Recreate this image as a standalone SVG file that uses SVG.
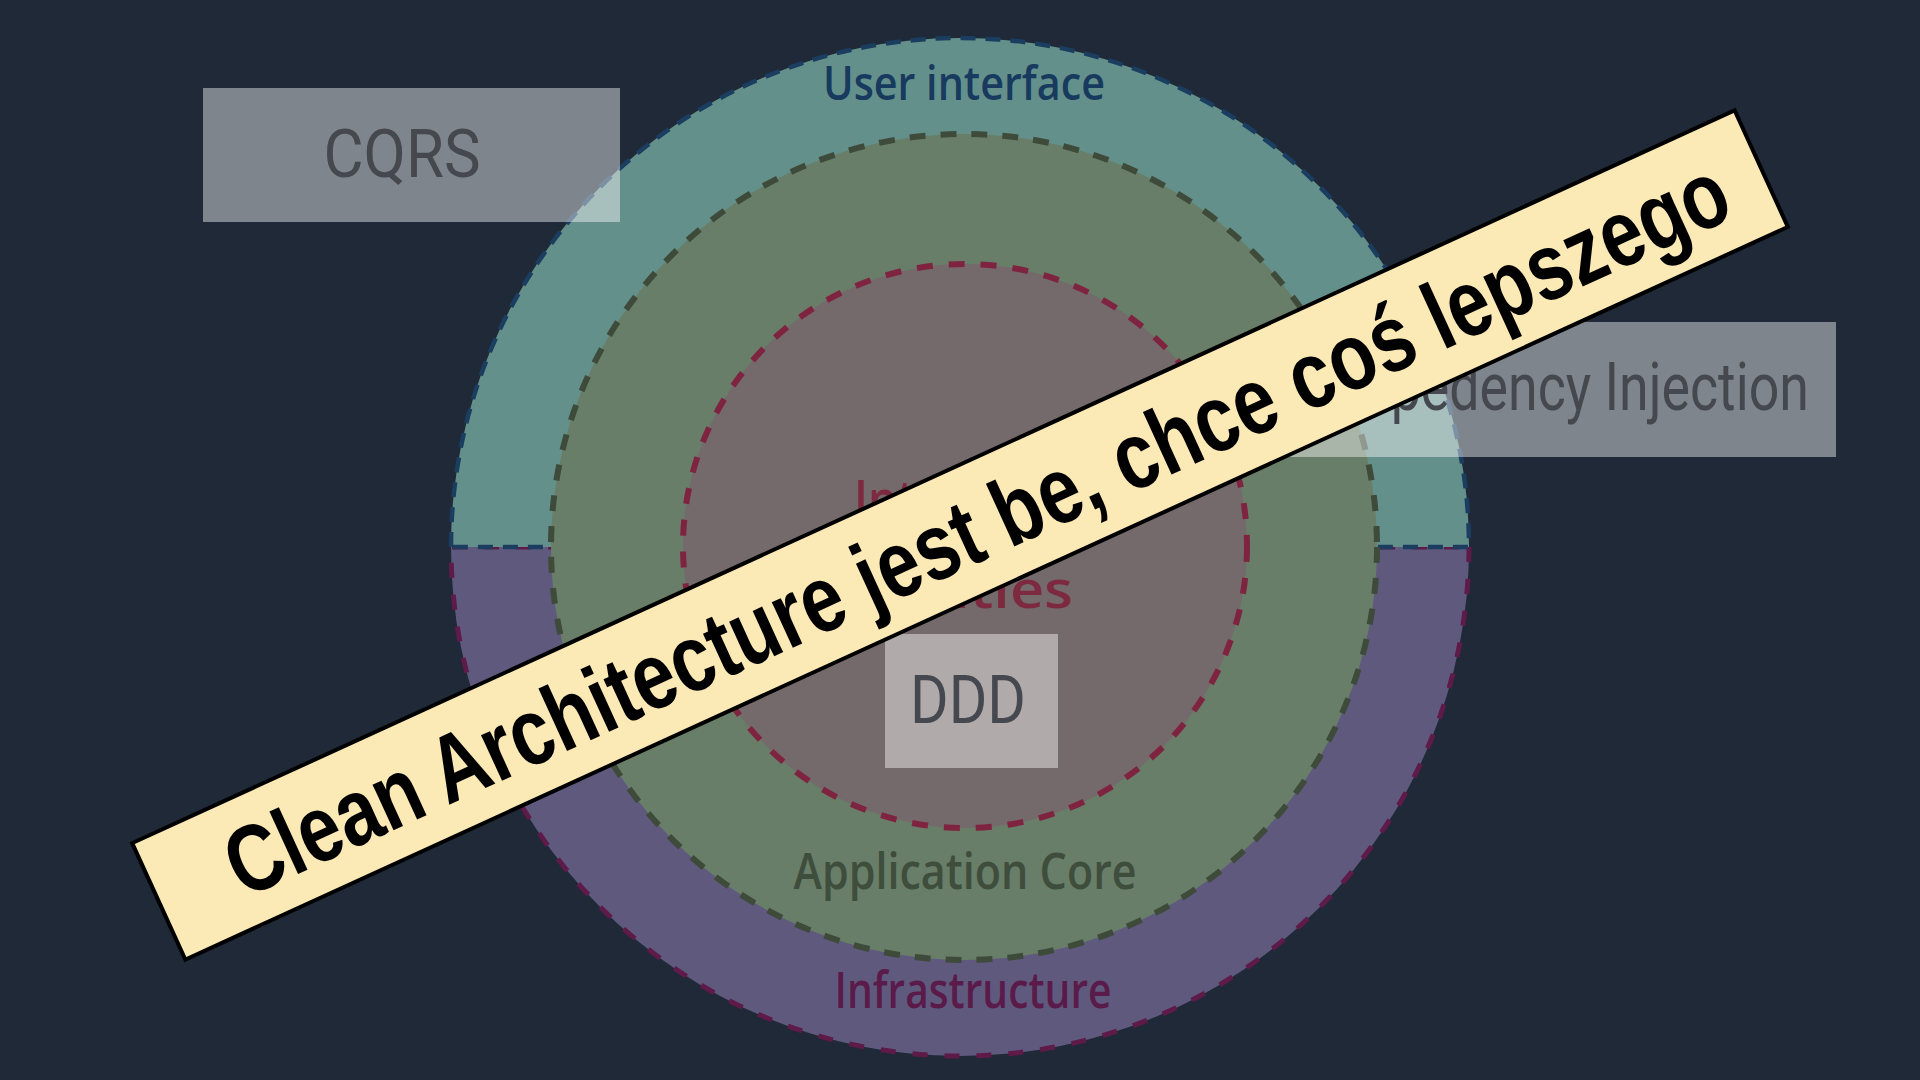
<svg xmlns="http://www.w3.org/2000/svg" width="1920" height="1080" viewBox="0 0 1920 1080">
  <style>
    .lbl { font-family: "Open Sans", "Noto Sans", sans-serif; font-weight: 600; text-anchor: middle; }
    .box { fill: #ffffff; fill-opacity: 0.43; }
    .boxtxt { font-family: Roboto, "Liberation Sans", sans-serif; font-size: 66px; fill: #45484e; text-anchor: middle; }
    .banner { fill: #fbe9b6; stroke: #000000; stroke-width: 4; }
    .bannertxt { font-family: "Liberation Sans", Arial, sans-serif; font-weight: bold; font-size: 95px; fill: #000000; text-anchor: middle; }
  </style>
  <rect x="0" y="0" width="1920" height="1080" fill="#1f2937"/>

  <g id="infrastructure">
    <path d="M 1469 547 A 509 509 0 0 1 451 547 Z" fill="#5f5a7d" stroke="#5e1a48" stroke-width="5" stroke-dasharray="15 17"/>
  </g>
  <g id="user-interface">
    <path d="M 451 547 A 509 509 0 1 1 1469 547 Z" fill="#64908b" stroke="#1b3d5f" stroke-width="4.5" stroke-dasharray="15 10"/>
  </g>
  <g id="application-core">
    <circle cx="964" cy="547" r="413" fill="#687e68" stroke="#3e4b3a" stroke-width="6" stroke-dasharray="16 15"/>
  </g>
  <g id="domain">
    <circle cx="965" cy="546" r="282" fill="#756a6b" stroke="#7f2440" stroke-width="6" stroke-dasharray="16 16"/>
  </g>

  <g id="labels">
    <text class="lbl" x="964" y="100" font-size="47" fill="#173a5e" textLength="282" lengthAdjust="spacingAndGlyphs">User interface</text>
    <text class="lbl" x="965" y="518" font-size="52" fill="#7d2a40" textLength="222" lengthAdjust="spacingAndGlyphs">Interfaces</text>
    <text class="lbl" x="966" y="608" font-size="52" fill="#7d2a40" textLength="214" lengthAdjust="spacingAndGlyphs">Entities</text>
    <text class="lbl" x="965" y="889" font-size="50" fill="#3f4d3c" textLength="343" lengthAdjust="spacingAndGlyphs">Application Core</text>
    <text class="lbl" x="973" y="1008" font-size="50" fill="#5a1a4a" textLength="277" lengthAdjust="spacingAndGlyphs">Infrastructure</text>
  </g>

  <g id="cqrs">
    <rect class="box" x="203" y="88" width="417" height="134"/>
    <text class="boxtxt" x="402" y="177" textLength="157" lengthAdjust="spacingAndGlyphs">CQRS</text>
  </g>
  <g id="dependency-injection">
    <rect class="box" x="1290" y="322" width="546" height="135"/>
    <text class="boxtxt" x="1568" y="410" textLength="482" lengthAdjust="spacingAndGlyphs">Depedency Injection</text>
  </g>
  <g id="ddd">
    <rect class="box" x="885" y="634" width="173" height="134"/>
    <text class="boxtxt" x="968" y="723" font-size="64" fill="#5e5c5c" textLength="116" lengthAdjust="spacingAndGlyphs">DDD</text>
  </g>

  <g id="banner" transform="translate(960 535) rotate(-24.57)">
    <rect class="banner" x="-881" y="-64" width="1762" height="128"/>
    <text class="bannertxt" x="18" y="33" textLength="1642" lengthAdjust="spacingAndGlyphs">Clean Architecture jest be, chce coś lepszego</text>
  </g>
  <g id="connectors"/>
</svg>
